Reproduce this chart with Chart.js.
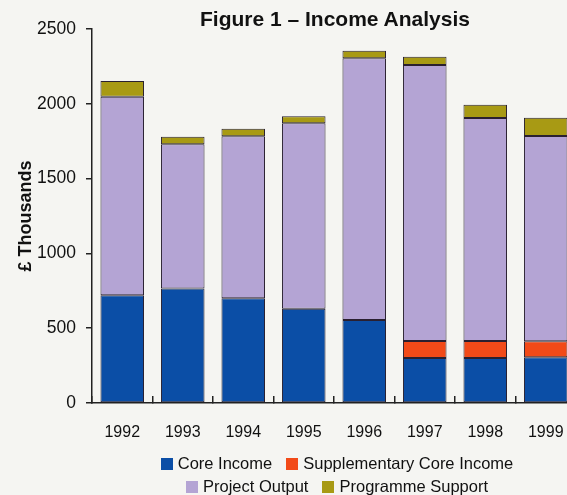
<!DOCTYPE html>
<html>
<head>
<meta charset="utf-8">
<script src="https://cdn.jsdelivr.net/npm/chart.js@4/dist/chart.umd.min.js"></script>
<style>
  html, body { margin: 0; padding: 0; background: #f5f5f2; overflow: hidden; }
  body { width: 567px; height: 495px; position: relative; font-family: "Liberation Sans", Arial, sans-serif; color: #111; }
  #wrap { position: absolute; left: 0; top: 0; width: 600px; height: 495px; }
  #title { position: absolute; left: 0; width: 670px; top: 7px; text-align: center; font-weight: bold; font-size: 21px; }
  #legend { position: absolute; left: 0; width: 674px; top: 452px; text-align: center; font-size: 16.5px; line-height: 23px; }
  #legend span.item { display: inline-block; margin: 0 7px; white-space: nowrap; }
  #legend span.box { display: inline-block; width: 12px; height: 12px; margin-right: 5px; vertical-align: -1px; }
</style>
</head>
<body>
<div id="wrap"><canvas id="c"></canvas></div>
<div id="title">Figure 1 – Income Analysis</div>
<div id="legend"></div>
<script>
(function(){
  'use strict';

  // Data (£ thousands); null = no segment that year
  const years        = ['1992','1993','1994','1995','1996','1997','1998','1999'];
  const coreIncome   = [720, 765, 700, 630, 555, 300, 300, 305];
  const suppCore     = [null, null, null, null, null, 115, 115, 107];
  const projectOut   = [1327, 965, 1083, 1240, 1750, 1845, 1490, 1373];
  const progSupport  = [105, 50, 50, 46, 50, 55, 88, 122];
  const yTicks       = [0, 500, 1000, 1500, 2000, 2500];

  const seriesNames  = ['Core Income', 'Supplementary Core Income', 'Project Output', 'Programme Support'];
  const seriesColors = ['#0b4ea6', '#f24a18', '#b4a4d4', '#a89a14'];
  const seriesData   = [coreIncome, suppCore, projectOut, progSupport];

  const edge = '#2a2030';

  const datasets = seriesData.map(function(d, i){
    return {
      label: seriesNames[i],
      data: d,
      backgroundColor: seriesColors[i],
      borderColor: edge,
      borderWidth: 1,
      borderSkipped: false,
      barPercentage: 0.72,
      categoryPercentage: 1.0
    };
  });

  // legend in two rows, like the printed figure
  const legendEl = document.getElementById('legend');
  [[0,1],[2,3]].forEach(function(row, r){
    if(r) legendEl.appendChild(document.createElement('br'));
    row.forEach(function(i){
      const s = document.createElement('span');
      s.className = 'item';
      s.innerHTML = '<span class="box" style="background:' + seriesColors[i] + '"></span>' + seriesNames[i];
      legendEl.appendChild(s);
    });
  });

  const ctx = document.getElementById('c').getContext('2d');
  new Chart(ctx, {
    type: 'bar',
    data: { labels: years, datasets: datasets },
    options: {
      responsive: true, maintainAspectRatio: false, animation: false,
      layout: { padding: { top: 29, right: 24, bottom: 52, left: 0 } },
      plugins: { legend: { display: false }, tooltip: { enabled: false } },
      scales: {
        x: {
          stacked: true,
          grid: { display: true, drawOnChartArea: false, offset: true, color: '#222', lineWidth: 1.5, tickLength: -7 },
          border: { display: true, color: '#222', width: 1.5 },
          ticks: { color: '#111', font: { family: 'Liberation Sans', size: 16 }, padding: 27, maxRotation: 0 },
          afterFit: function(s){ s.height = 40; }
        },
        y: {
          stacked: true,
          min: 0, max: 2500,
          afterBuildTicks: function(s){ s.ticks = yTicks.map(v => ({ value: v })); },
          grid: { display: true, drawOnChartArea: false, color: '#222', lineWidth: 1.5, tickLength: 6 },
          border: { display: true, color: '#222', width: 1.5 },
          ticks: { color: '#111', font: { family: 'Liberation Sans', size: 17.5 }, padding: 10,
                   callback: function(v){ return String(v); } },
          title: { display: true, text: '£ Thousands', color: '#111', font: { family: 'Liberation Sans', size: 18, weight: 'bold' }, padding: { top: 15, bottom: 0 } },
          afterFit: function(s){ s.width = 92; }
        }
      }
    }
  });
})();
</script>
</body>
</html>
